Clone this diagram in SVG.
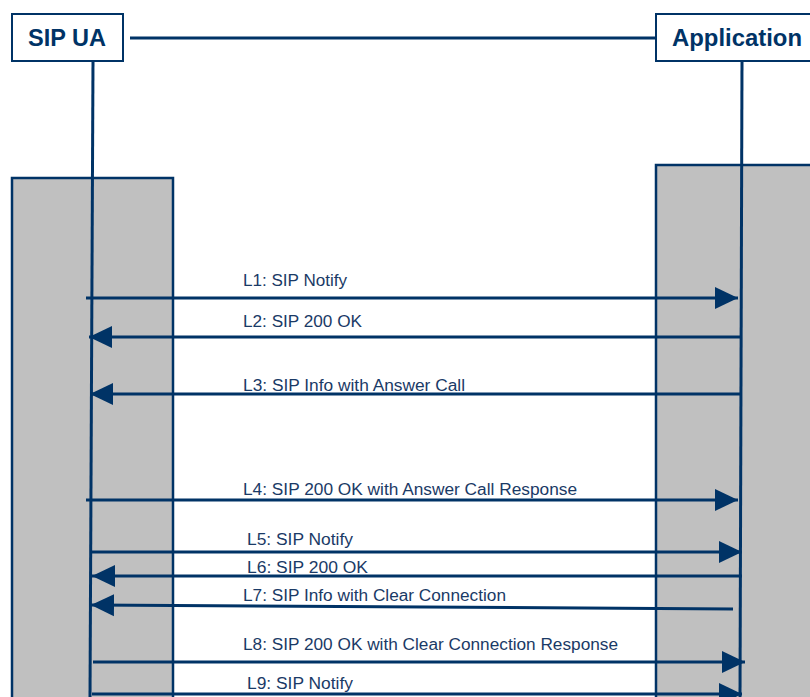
<svg xmlns="http://www.w3.org/2000/svg" width="810" height="697" viewBox="0 0 810 697">
<style>
.hdr{fill:#fff;stroke:#003366;stroke-width:2}
.band{fill:#c0c0c0;stroke:#003366;stroke-width:2.5}
.life{stroke:#003366;stroke-width:3;fill:none}
.msg{stroke:#003366;stroke-width:3;fill:none}
.t{font-family:"Liberation Sans",Arial,sans-serif;font-size:16px;fill:#1a3a66}
.h{font-family:"Liberation Sans",Arial,sans-serif;font-size:24px;font-weight:bold;fill:#003366}
</style>
<defs>
<marker id="ah" markerUnits="userSpaceOnUse" markerWidth="24" markerHeight="24" viewBox="0 0 24 24" refX="23" refY="12" orient="auto">
<path d="M0,1 L23,12 L0,23 Z" fill="#003366"/>
</marker>
</defs>
<rect x="0" y="0" width="810" height="697" fill="#fff"/>
<g id="bands">
<rect class="band" x="12" y="178" width="161" height="530"/>
<rect class="band" x="656" y="165" width="170" height="545"/>
</g>
<g id="sipua">
<rect class="hdr" x="12" y="14" width="111" height="47"/>
<text class="h" x="67" y="46" text-anchor="middle" textLength="78" lengthAdjust="spacingAndGlyphs">SIP UA</text>
<line class="life" x1="93" y1="61" x2="90" y2="697"/>
</g>
<g id="application">
<rect class="hdr" x="656" y="14" width="170" height="47"/>
<text class="h" x="672" y="46" textLength="130" lengthAdjust="spacingAndGlyphs">Application</text>
<line class="life" x1="742" y1="61" x2="740" y2="697"/>
</g>
<g id="connectors">
<line x1="130" y1="38" x2="656" y2="38" stroke="#003366" stroke-width="3"/>
<line class="msg" x1="86" y1="298" x2="738" y2="298" marker-end="url(#ah)"/>
<line class="msg" x1="740" y1="337" x2="89" y2="337" marker-end="url(#ah)"/>
<line class="msg" x1="740" y1="394" x2="90" y2="394" marker-end="url(#ah)"/>
<line class="msg" x1="86" y1="500" x2="738" y2="500" marker-end="url(#ah)"/>
<line class="msg" x1="92" y1="552" x2="742" y2="552" marker-end="url(#ah)"/>
<line class="msg" x1="742" y1="576" x2="92" y2="576" marker-end="url(#ah)"/>
<line class="msg" x1="733" y1="609" x2="91" y2="605" marker-end="url(#ah)"/>
<line class="msg" x1="93" y1="662" x2="745" y2="662" marker-end="url(#ah)"/>
<line class="msg" x1="92" y1="694" x2="742" y2="694" marker-end="url(#ah)"/>
</g>
<g id="labels">
<text class="t" x="243" y="286" textLength="104" lengthAdjust="spacingAndGlyphs">L1: SIP Notify</text>
<text class="t" x="243" y="327" textLength="119" lengthAdjust="spacingAndGlyphs">L2: SIP 200 OK</text>
<text class="t" x="243" y="391" textLength="222" lengthAdjust="spacingAndGlyphs">L3: SIP Info with Answer Call</text>
<text class="t" x="243" y="495" textLength="334" lengthAdjust="spacingAndGlyphs">L4: SIP 200 OK with Answer Call Response</text>
<text class="t" x="247" y="545" textLength="106" lengthAdjust="spacingAndGlyphs">L5: SIP Notify</text>
<text class="t" x="247" y="573" textLength="121" lengthAdjust="spacingAndGlyphs">L6: SIP 200 OK</text>
<text class="t" x="243" y="601" textLength="263" lengthAdjust="spacingAndGlyphs">L7: SIP Info with Clear Connection</text>
<text class="t" x="243" y="650" textLength="375" lengthAdjust="spacingAndGlyphs">L8: SIP 200 OK with Clear Connection Response</text>
<text class="t" x="247" y="689" textLength="106" lengthAdjust="spacingAndGlyphs">L9: SIP Notify</text>
</g>
</svg>
